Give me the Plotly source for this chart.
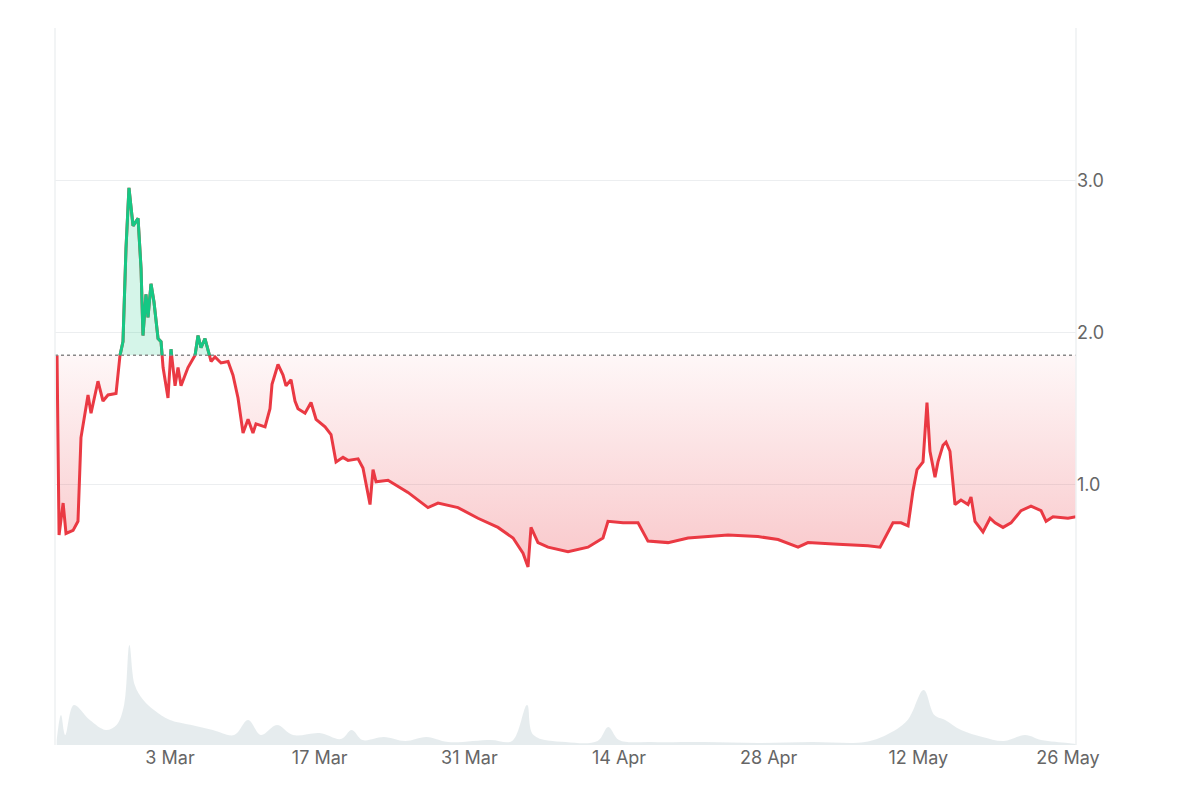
import numpy as np
import pandas as pd
import plotly.graph_objects as go

# days since 3 Mar 2025
price_days = [-10.57,-10.38,-10.0,-9.73,-9.07,-8.61,-8.33,-7.67,-7.39,-6.74,-6.27,-5.8,-5.05,-4.68,-4.4,-4.12,-3.84,-3.46,-2.99,-2.71,-2.53,-2.25,-2.06,-1.78,-1.5,-1.12,-0.84,-0.65,-0.19,0.09,0.47,0.75,1.03,1.68,2.34,2.62,2.9,3.27,3.84,4.21,4.77,5.43,5.89,6.36,6.83,7.3,7.76,8.04,8.89,9.35,9.54,10.1,10.57,10.85,11.32,11.69,11.97,12.63,13.19,13.66,14.5,15.06,15.53,16.18,16.65,17.59,18.05,18.71,18.99,19.27,20.39,22.26,24.13,25.07,26.94,28.81,30.68,32.09,33.02,33.49,33.77,34.42,35.36,37.23,39.1,40.5,40.97,42.38,43.78,44.71,46.59,48.46,50.33,52.2,55.0,56.88,58.75,59.68,62.49,65.29,66.42,67.63,68.38,69.04,69.5,69.88,70.44,70.81,71.09,71.56,71.84,72.31,72.59,72.96,73.43,73.99,74.65,74.93,75.3,76.05,76.71,77.18,77.92,78.67,79.61,80.54,81.48,81.95,82.6,84.0,84.75]
price_vals = [1.85,0.67,0.88,0.68,0.70,0.76,1.31,1.59,1.47,1.68,1.55,1.59,1.60,1.85,1.94,2.55,2.95,2.70,2.75,2.42,1.98,2.25,2.10,2.32,2.20,1.96,1.94,1.77,1.57,1.89,1.65,1.77,1.65,1.77,1.85,1.98,1.90,1.96,1.81,1.84,1.80,1.81,1.72,1.57,1.34,1.43,1.34,1.40,1.38,1.50,1.66,1.79,1.72,1.65,1.69,1.55,1.50,1.47,1.54,1.43,1.38,1.33,1.15,1.18,1.16,1.17,1.11,0.87,1.10,1.02,1.03,0.95,0.85,0.88,0.85,0.78,0.72,0.65,0.55,0.46,0.72,0.62,0.59,0.56,0.59,0.65,0.76,0.75,0.75,0.63,0.62,0.65,0.66,0.67,0.66,0.64,0.59,0.62,0.61,0.60,0.59,0.75,0.75,0.73,0.96,1.10,1.15,1.54,1.22,1.05,1.15,1.26,1.28,1.22,0.87,0.90,0.87,0.92,0.76,0.69,0.78,0.75,0.72,0.75,0.83,0.86,0.83,0.76,0.79,0.78,0.79]
vol_days = [-10.6,-10.2,-9.8,-9.0,-7.5,-6.0,-5.0,-4.3,-3.8,-3.3,-2.5,-1.5,0,2,4,6,7.3,8.5,10,11.5,14,16,17,18,20,22,24,26,30,32,33.4,34,37,40,41,42,45,50,55,60,65,67,69,70.5,71.5,72.5,74,76,78,80,81.5,84,84.75]
vol_vals = [5,30,10,40,25,15,20,40,100,60,45,35,25,20,15,10,25,10,20,10,12,6,15,5,8,4,8,3,5,4,40,10,3,4,18,5,3,3,2,3,3,10,25,55,30,25,15,8,4,10,5,2,1]
baseline = 1.85
tick_labels = ["3 Mar","17 Mar","31 Mar","14 Apr","28 Apr","12 May","26 May"]
tick_days = [0,14,28,42,56,70,84]

origin = pd.Timestamp("2025-03-03")
def to_dates(d):
    return origin + pd.to_timedelta(np.asarray(d, float), unit="D")

# insert baseline crossings
d = np.array(price_days); v = np.array(price_vals)
nd, nv = [d[0]], [v[0]]
for i in range(1, len(d)):
    a, b = v[i-1] - baseline, v[i] - baseline
    if a * b < 0:
        t = a / (a - b)
        nd.append(d[i-1] + t * (d[i] - d[i-1])); nv.append(baseline)
    nd.append(d[i]); nv.append(v[i])
nd = np.array(nd); nv = np.array(nv)
x = to_dates(nd)
lower = np.minimum(nv, baseline)
upper = np.maximum(nv, baseline)
green = np.where(nv >= baseline, nv, np.nan)
RED, GREEN = "#ea3943", "#16c784"

fig = go.Figure()
fig.add_trace(go.Scatter(x=x, y=[baseline]*len(x), mode="lines", line=dict(width=0), hoverinfo="skip"))
fig.add_trace(go.Scatter(x=x, y=lower, mode="lines", line=dict(width=0), fill="tonexty",
    fillgradient=dict(type="vertical", colorscale=[[0, "rgba(234,57,67,0.28)"], [1, "rgba(234,57,67,0.04)"]])))
fig.add_trace(go.Scatter(x=x, y=[baseline]*len(x), mode="lines", line=dict(width=0), hoverinfo="skip"))
fig.add_trace(go.Scatter(x=x, y=upper, mode="lines", line=dict(width=0), fill="tonexty",
    fillcolor="rgba(22,199,132,0.18)"))
fig.add_trace(go.Scatter(x=x, y=nv, mode="lines", line=dict(color=RED, width=3)))
fig.add_trace(go.Scatter(x=x, y=green, mode="lines", line=dict(color=GREEN, width=3), connectgaps=False))
fig.add_trace(go.Scatter(x=to_dates(vol_days), y=vol_vals, mode="lines", line=dict(width=0, shape="spline"),
    fill="tozeroy", fillcolor="rgba(200,212,218,0.45)", yaxis="y2"))

fig.add_shape(type="line", xref="paper", x0=0, x1=1, yref="y", y0=baseline, y1=baseline,
              line=dict(color="#888", width=1.5, dash="dot"))
for xp in (0, 1):
    fig.add_shape(type="line", xref="paper", x0=xp, x1=xp, yref="paper", y0=0, y1=1,
                  line=dict(color="#eef0f2", width=1.5))

fig.update_layout(
    width=1200, height=800, showlegend=False, plot_bgcolor="white", paper_bgcolor="white",
    margin=dict(l=47, r=132, t=20, b=63, autoexpand=False),
    xaxis=dict(type="date", anchor="y2", automargin=False,
               range=[to_dates([-10.76])[0], to_dates([84.75])[0]],
               tickvals=to_dates(tick_days), ticktext=tick_labels, showgrid=False,
               tickfont=dict(family="Inter", size=18, color="#666"), ticks="", zeroline=False),
    yaxis=dict(domain=[0.1506, 1], range=[0, 4], side="right", tickvals=[0,1,2,3,4], automargin=False,
               ticktext=["","1.0","2.0","3.0",""], gridcolor="#eceef0", gridwidth=1.2,
               tickfont=dict(family="Inter", size=18, color="#666"), zeroline=False, ticks="", ticklen=10),
    yaxis2=dict(domain=[0, 0.1506], range=[0, 108], showgrid=False, showticklabels=False,
                zeroline=False, automargin=False),
)
fig.write_html("out.html")
